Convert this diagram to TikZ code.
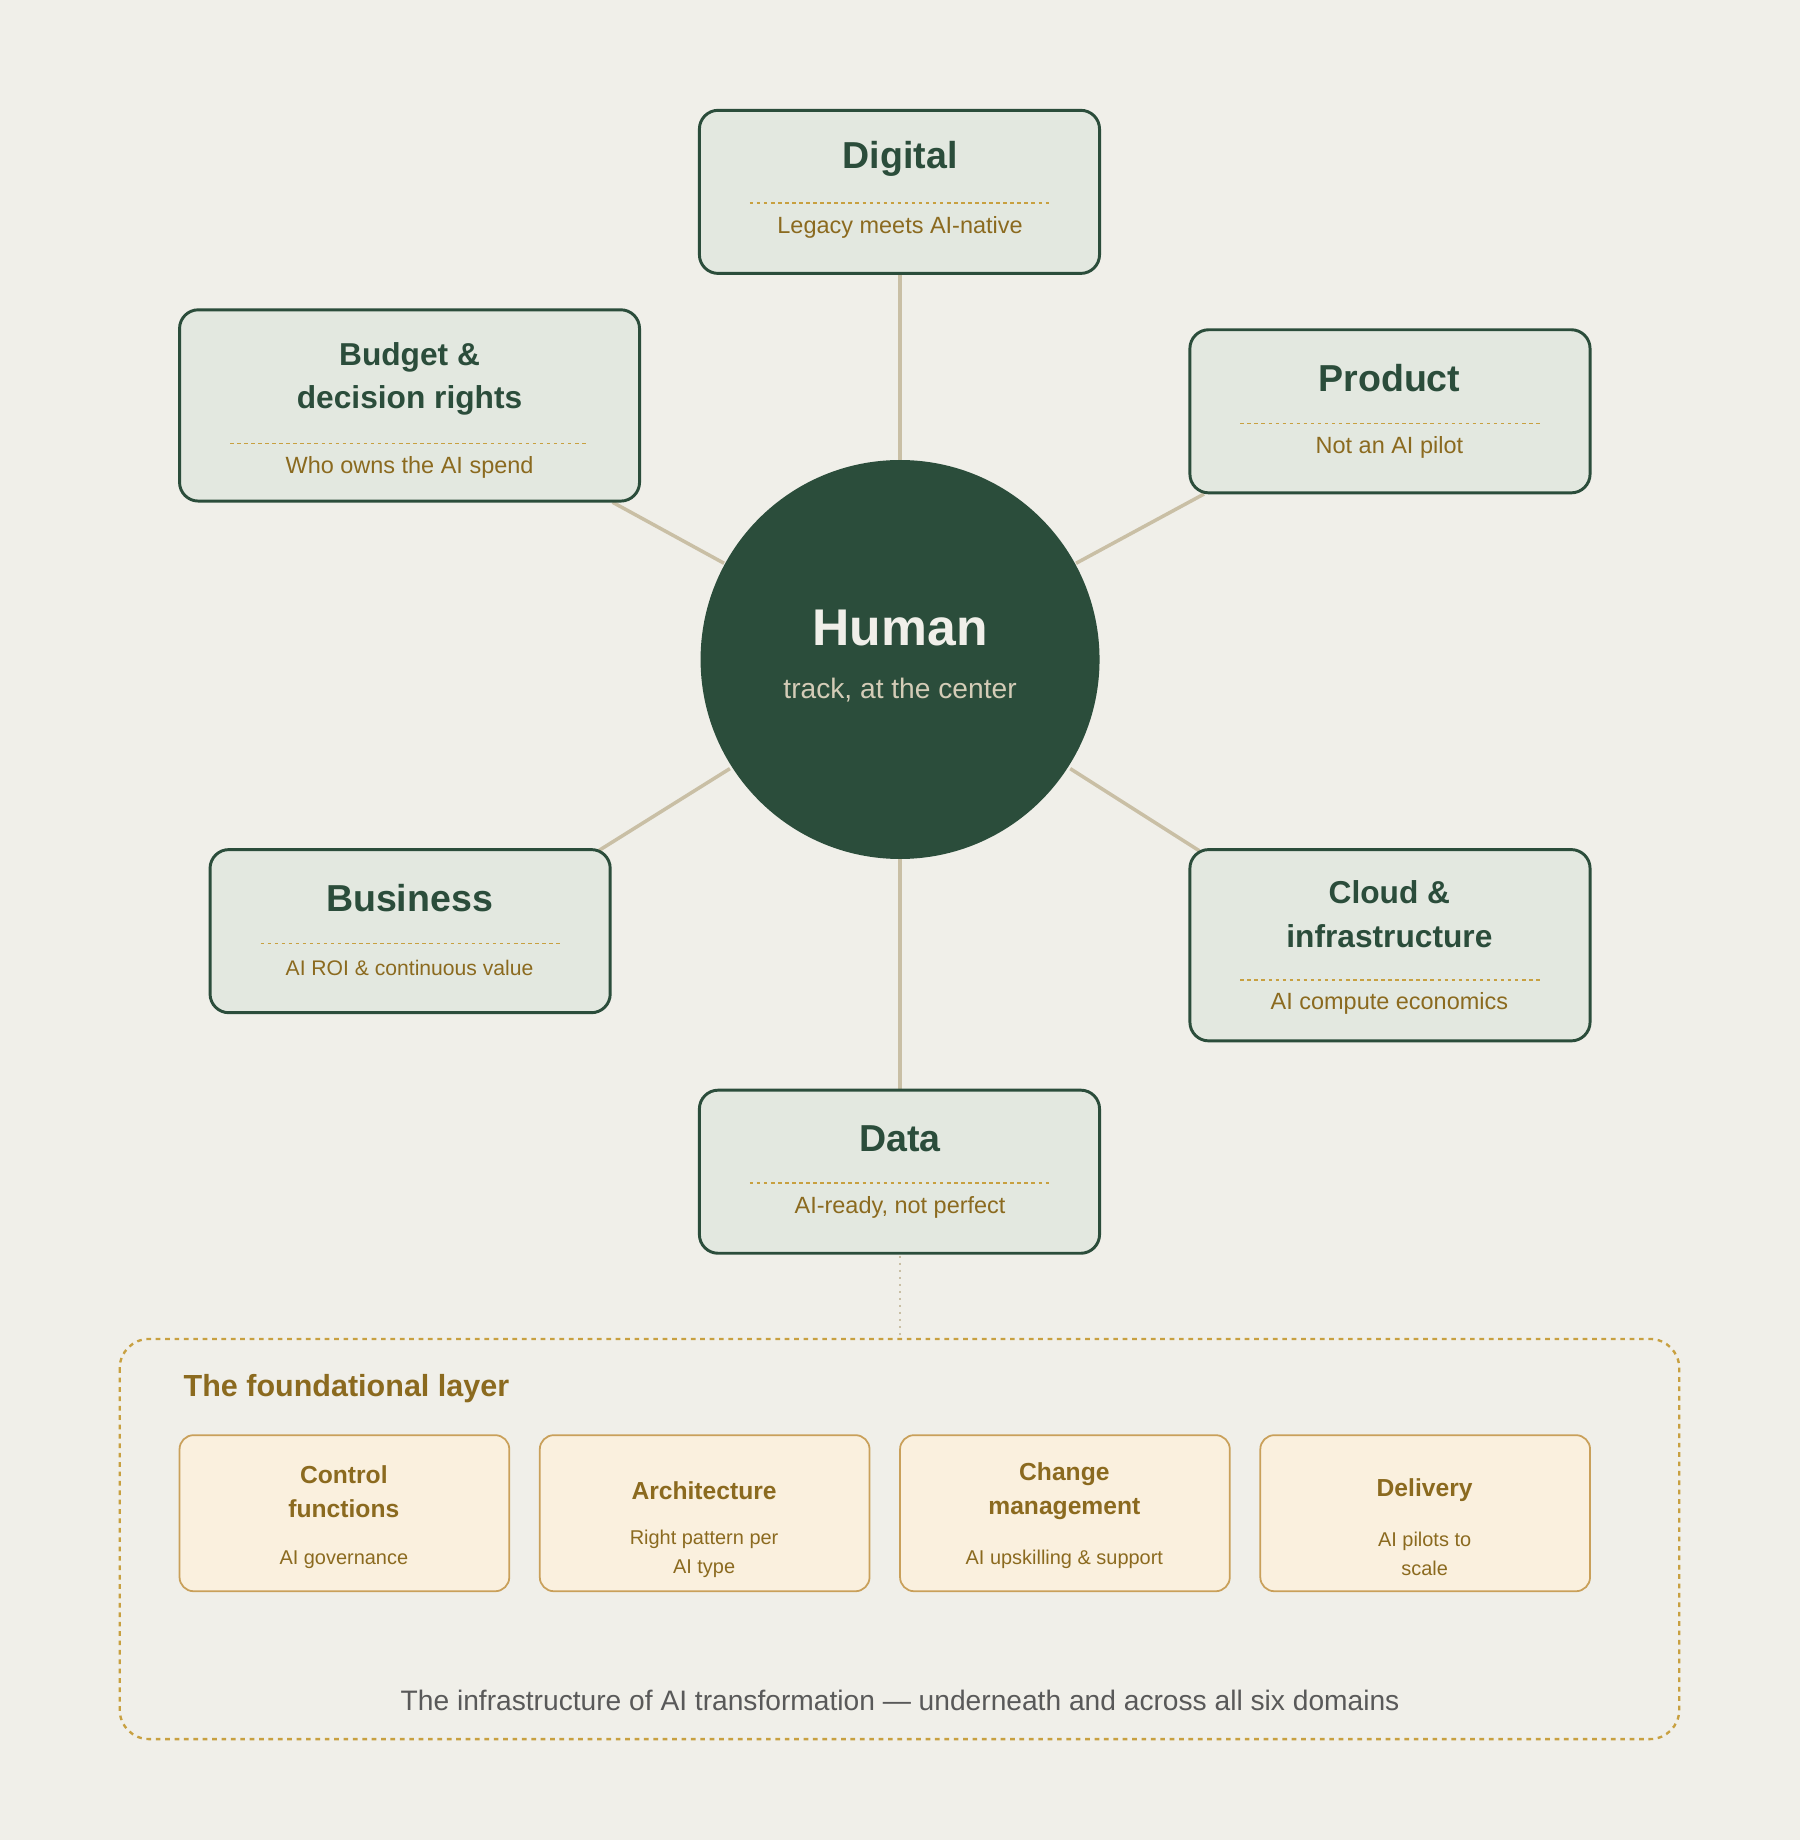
\documentclass[tikz,border=0pt]{standalone}
\usepackage{fontspec}
\setmainfont{Liberation Sans}
\definecolor{bg}{HTML}{F0EFE9}
\definecolor{boxf}{HTML}{E3E8E0}
\definecolor{dk}{HTML}{2B4D3B}
\definecolor{gold}{HTML}{8B6A1F}
\definecolor{dashc}{HTML}{C8A040}
\definecolor{conn}{HTML}{C9BFA5}
\definecolor{fnd}{HTML}{FAF0DE}
\definecolor{fndb}{HTML}{C9A05A}
\begin{document}
\begin{tikzpicture}[x=1pt,y=-1pt,
  dom/.style={draw=dk,line width=2.5pt,fill=boxf,rounded corners=16pt},
  ttl/.style={text=dk,font=\fontsize{32}{37}\selectfont\bfseries,align=center},
  ttl2/.style={text=dk,font=\fontsize{27}{37}\selectfont\bfseries,align=center},
  sub/.style={text=gold,font=\fontsize{20}{24}\selectfont},
  dl/.style={draw=dashc,line width=1.3pt,dash pattern=on 3pt off 3pt},
  con/.style={draw=conn,line width=3pt},
  fb/.style={draw=fndb,line width=1.5pt,fill=fnd,rounded corners=12pt},
  ft/.style={text=gold,font=\fontsize{21}{29}\selectfont\bfseries,align=center},
  fs/.style={text=gold,font=\fontsize{17}{25}\selectfont,align=center}]
\fill[bg] (0,0) rectangle (1534,1568);
\useasboundingbox (0,0) rectangle (1534,1568);
% connectors
\coordinate (c) at (767,562);
\draw[con] (767,233) -- (767,392);
\draw[con] (522,428) -- (617,480);
\draw[con] (1026,421) -- (917,480);
\draw[con] (510,725) -- (622,655);
\draw[con] (1022,725) -- (912,655);
\draw[con] (767,732) -- (767,929);
\draw[conn,line width=2pt,dash pattern=on 2pt off 4pt] (767,1070) -- (767,1140);
% circle
\node[circle,fill=dk,minimum size=340pt,inner sep=0] (hub) at (c) {};
\node[text=bg,font=\fontsize{44}{50}\selectfont\bfseries] (h1) at (767,535) {Human};
\node[text=conn!80!white,font=\fontsize{24}{28}\selectfont] (h2) at (767,588) {track, at the center};
% domains
\draw[dom] (596,94) rectangle (937,233);
\node[ttl] (dig) at (767,135) {Digital};
\draw[dl] (639,173) -- (895,173);
\node[sub] (digs) at (767,194) {Legacy meets AI-native};

\draw[dom] (153,264) rectangle (545,427);
\node[ttl2] (bud) at (349,323) {Budget \&\\decision rights};
\draw[dl] (196,378) -- (499,378);
\node[sub] (buds) at (349,398) {Who owns the AI spend};

\draw[dom] (1014,281) rectangle (1355,420);
\node[ttl] (pro) at (1184,322) {Product};
\draw[dl] (1057,361) -- (1312,361);
\node[sub] (pros) at (1184,381) {Not an AI pilot};

\draw[dom] (179,724) rectangle (520,863);
\node[ttl] (bus) at (349,765) {Business};
\draw[dl] (222,804) -- (477,804);
\node[sub,font=\fontsize{18}{22}\selectfont] (buss) at (349,825) {AI ROI \& continuous value};

\draw[dom] (1014,724) rectangle (1355,887);
\node[ttl2] (clo) at (1184,779) {Cloud \&\\infrastructure};
\draw[dl] (1057,835) -- (1312,835);
\node[sub] (clos) at (1184,855) {AI compute economics};

\draw[dom] (596,929) rectangle (937,1068);
\node[ttl] (dat) at (767,970) {Data};
\draw[dl] (639,1008) -- (895,1008);
\node[sub] (dats) at (767,1029) {AI-ready, not perfect};
% foundation
\draw[dashc,line width=2pt,dash pattern=on 4pt off 4pt,rounded corners=25pt] (102,1141) rectangle (1431,1482);
\node[anchor=west,text=gold,font=\fontsize{26}{30}\selectfont\bfseries] (ftl) at (153,1183) {The foundational layer};
\draw[fb] (153,1223) rectangle (434,1356);
\node[ft] (f1) at (293,1271) {Control\\functions};
\node[fs] (f1s) at (293,1329) {AI governance};
\draw[fb] (460,1223) rectangle (741,1356);
\node[ft] (f2) at (600,1270) {Architecture};
\node[fs] (f2s) at (600,1324) {Right pattern per\\AI type};
\draw[fb] (767,1223) rectangle (1048,1356);
\node[ft] (f3) at (907,1271) {Change\\management};
\node[fs] (f3s) at (907,1329) {AI upskilling \& support};
\draw[fb] (1074,1223) rectangle (1355,1356);
\node[ft] (f4) at (1214,1270) {Delivery};
\node[fs] (f4s) at (1214,1324) {AI pilots to\\scale};
\node[text=black!65,font=\fontsize{24}{28}\selectfont] (foot) at (767,1449) {The infrastructure of AI transformation — underneath and across all six domains};
\end{tikzpicture}
\end{document}
